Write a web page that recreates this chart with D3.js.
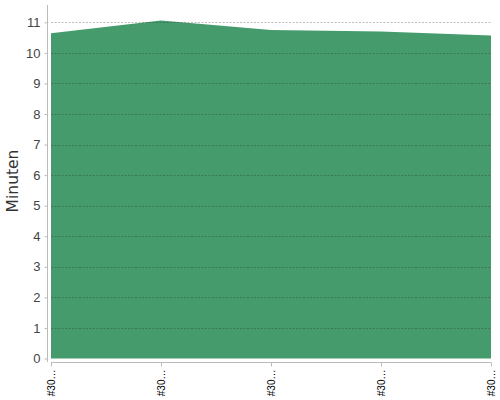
<!DOCTYPE html>
<html><head><meta charset="utf-8">
<script src="https://cdn.jsdelivr.net/npm/d3@7"></script>
<style>body{margin:0;background:#fff;}svg{display:block;font-family:"DejaVu Sans",sans-serif;}</style>
</head><body>
<script>
const categories = ["#30…", "#30…", "#30…", "#30…", "#30…"];
const values = [10.64, 11.06, 10.75, 10.70, 10.57];
const yTicks = [0,1,2,3,4,5,6,7,8,9,10,11];
const yLabel = "Minuten";

const W = 500, H = 400;
const m = {left: 51, right: 9, top: 5, bottom: 41.5};
const svg = d3.select("body").append("svg").attr("width", W).attr("height", H);
const x = d3.scalePoint().domain(d3.range(categories.length)).range([m.left, W - m.right]);
const y = d3.scaleLinear().domain([0, 11]).range([358.5, 22.3]);

// area
const area = d3.area().x((d,i)=>x(i)).y0(y(0)).y1(d=>y(d));
svg.append("path").datum(values).attr("d", area).attr("fill", "#459b6c");

// grid lines
svg.append("g").selectAll("line").data(yTicks.filter(t=>t>0)).join("line")
  .attr("x1", m.left).attr("x2", W - m.right)
  .attr("y1", d=>Math.round(y(d))+0.5).attr("y2", d=>Math.round(y(d))+0.5)
  .attr("stroke", "rgba(40,40,40,0.3)").attr("stroke-dasharray", "2,1.5").attr("stroke-width", 1);

// y axis
const ya = svg.append("g").attr("transform", "translate(47.5,0)")
  .call(d3.axisLeft(y).tickValues(yTicks).tickSize(3).tickPadding(4).tickFormat(d3.format("d")));
ya.select(".domain").attr("d", "M0,5V362").attr("stroke", "#bbb");
ya.selectAll(".tick line").attr("stroke", "#bbb");
ya.selectAll("text").attr("fill", "#444").attr("font-size", 13);

// x axis
const xa = svg.append("g").attr("transform", "translate(0,362.5)")
  .call(d3.axisBottom(x).tickSize(4).tickFormat(i=>categories[i]));
xa.select(".domain").attr("d", `M${m.left},0H${W-m.right}`).attr("stroke", "#bbb");
xa.selectAll(".tick line").attr("stroke", "#bbb");
xa.selectAll("text").attr("fill", "#000").attr("font-size", 10)
  .attr("transform", "rotate(-90)").attr("text-anchor", "end")
  .attr("x", -7).attr("y", 0).attr("dy", "0.35em");

// y label
svg.append("text").attr("transform", "translate(18,181) rotate(-90)")
  .attr("text-anchor", "middle").attr("font-size", 15.5).attr("fill", "#333").text(yLabel);
</script>
</body></html>
